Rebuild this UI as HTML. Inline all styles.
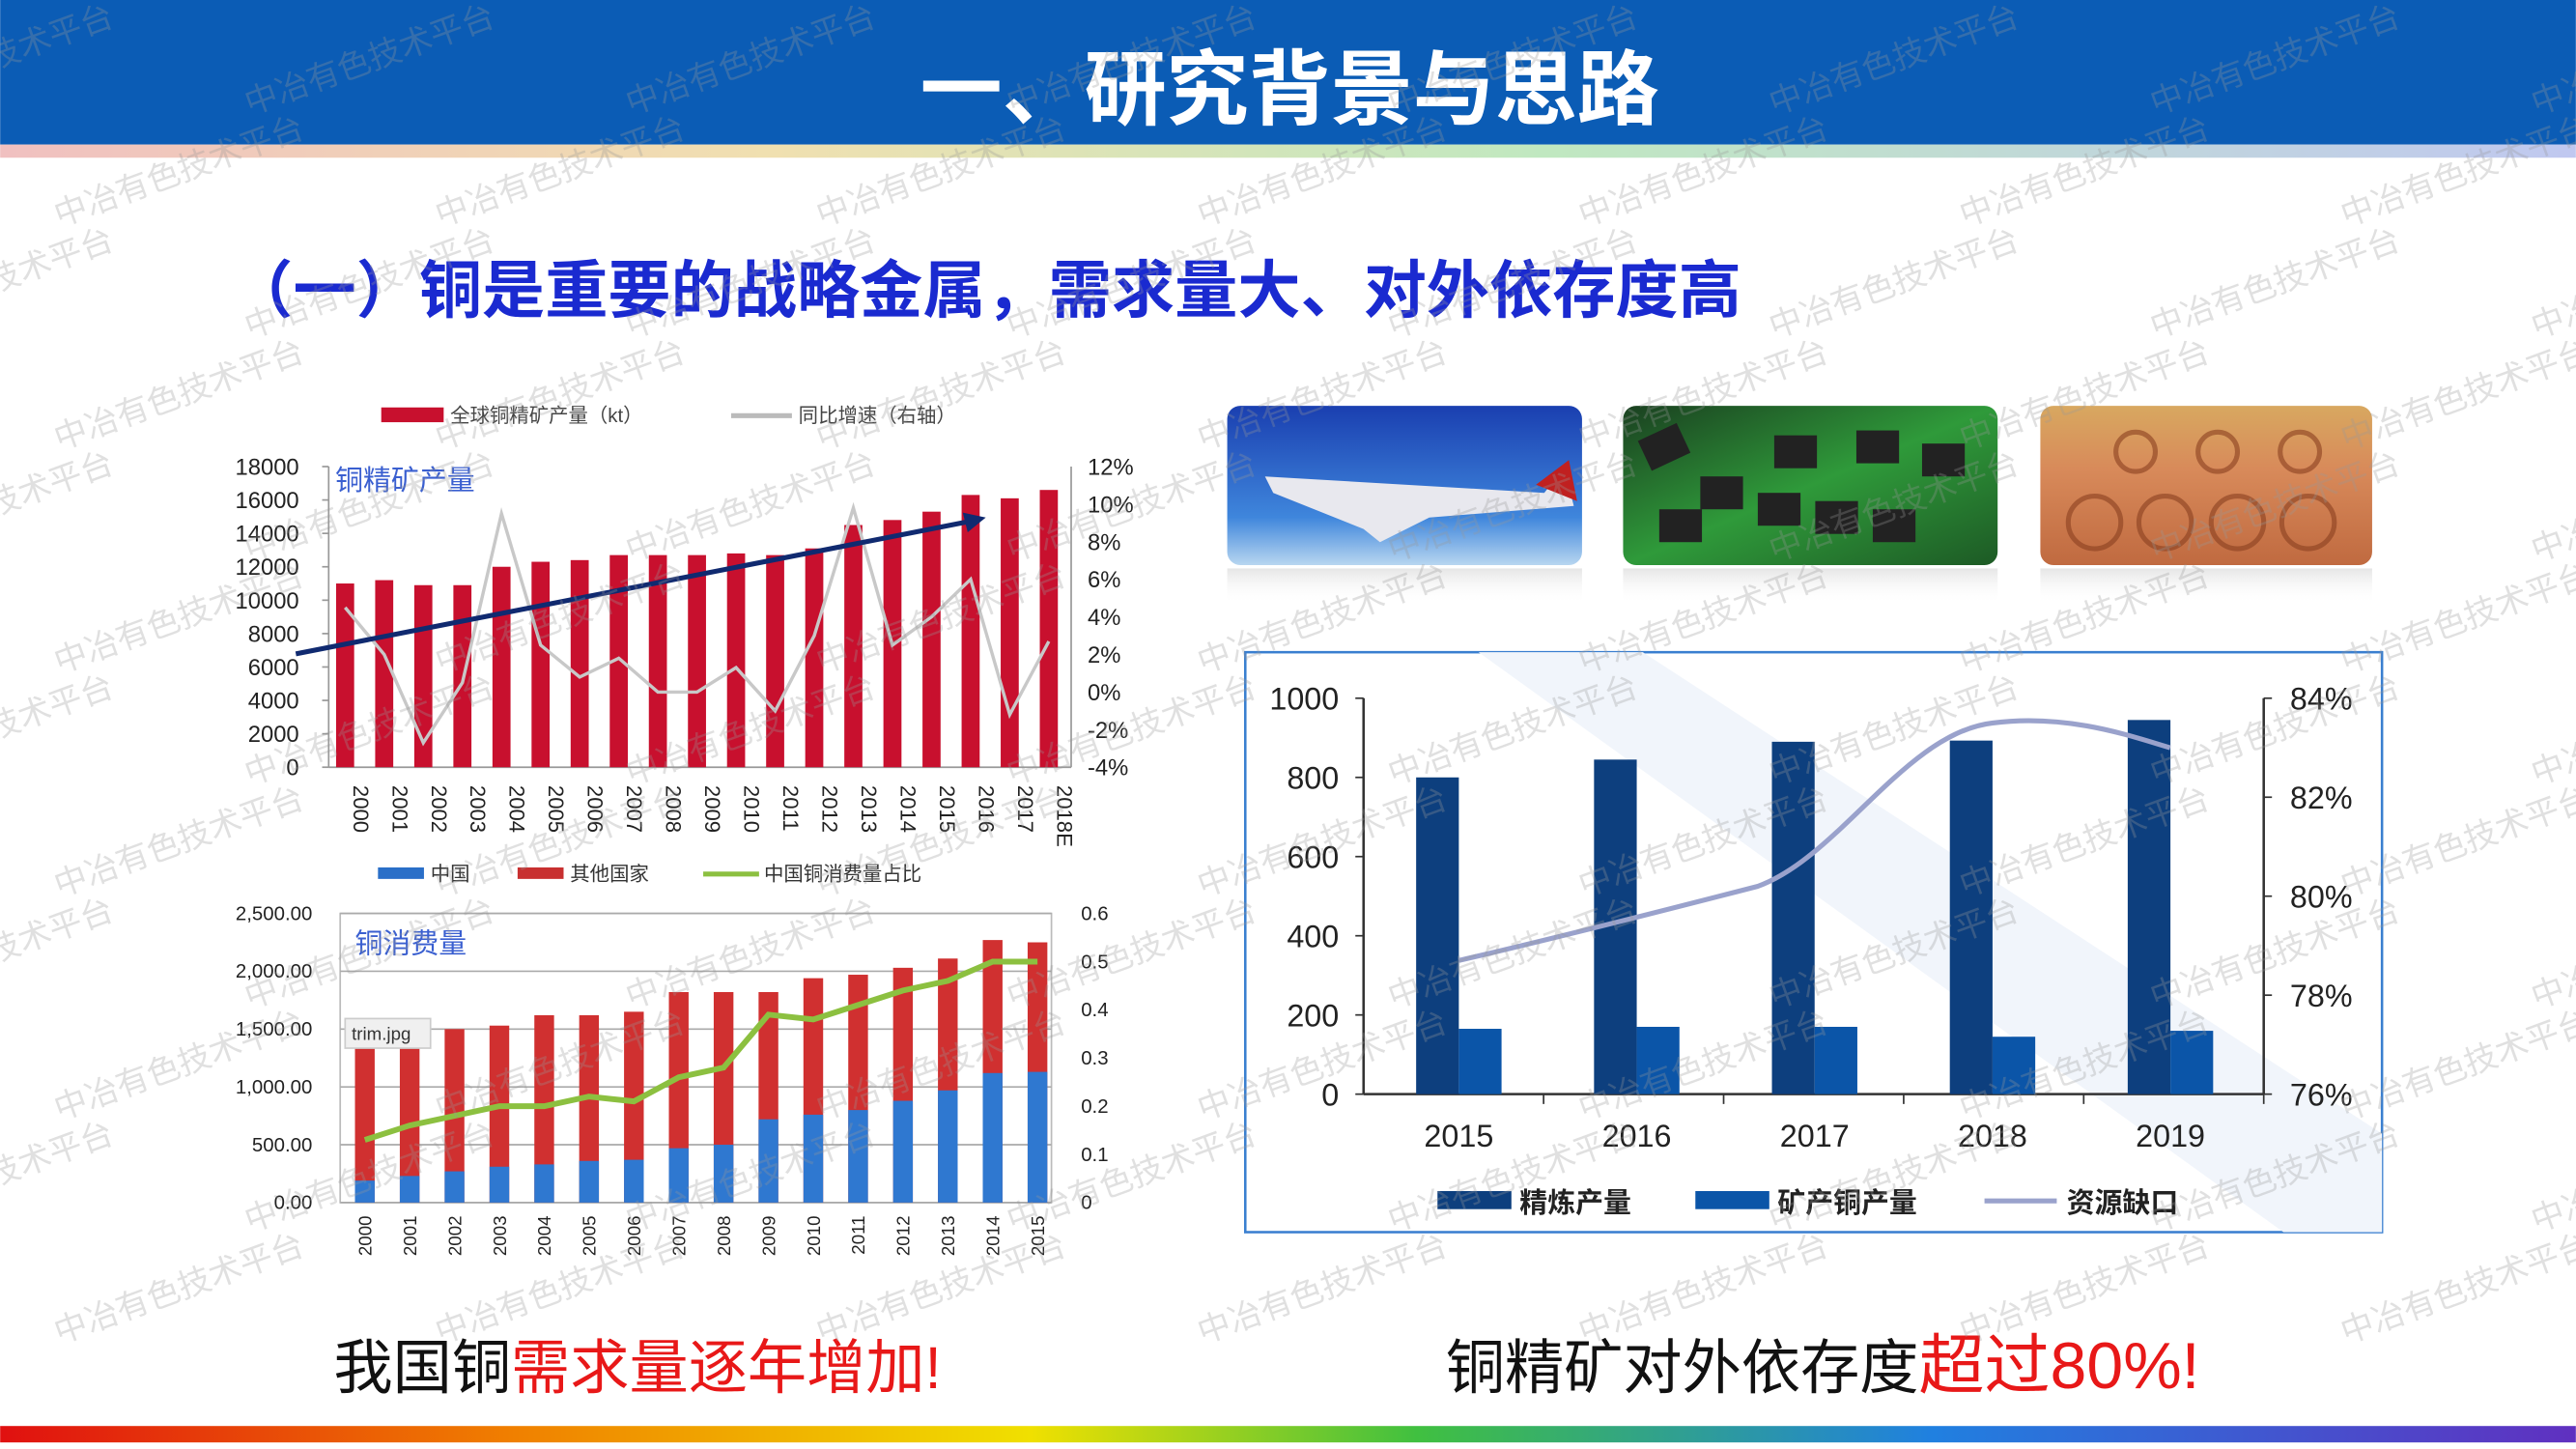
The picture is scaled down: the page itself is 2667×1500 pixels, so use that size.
<!DOCTYPE html>
<html><head><meta charset="utf-8">
<style>
html,body{margin:0;padding:0;background:#fff;}
svg{display:block;}
text{font-family:"Liberation Sans","Noto Sans CJK SC",sans-serif;}
</style></head>
<body>
<svg id="s" width="2667" height="1500" viewBox="0 0 1568 882" xmlns="http://www.w3.org/2000/svg">
<defs>
<linearGradient id="rb" x1="0" x2="1" y1="0" y2="0">
<stop offset="0" stop-color="#e01010"/><stop offset="0.2" stop-color="#f08000"/><stop offset="0.4" stop-color="#f0e000"/><stop offset="0.55" stop-color="#40c040"/><stop offset="0.75" stop-color="#2080e0"/><stop offset="1" stop-color="#6030c0"/>
</linearGradient>
<linearGradient id="rb2" x1="0" x2="1" y1="0" y2="0">
<stop offset="0" stop-color="#f0c0c0"/><stop offset="0.3" stop-color="#f0e0b0"/><stop offset="0.6" stop-color="#c0e8c0"/><stop offset="1" stop-color="#c0c8f0"/>
</linearGradient>
<linearGradient id="sky" x1="0" y1="0" x2="0" y2="1"><stop offset="0" stop-color="#1a3fb0"/><stop offset="0.7" stop-color="#3f86dc"/><stop offset="1" stop-color="#b8d6f0"/></linearGradient>
<linearGradient id="pcb" x1="0" y1="0" x2="1" y2="1"><stop offset="0" stop-color="#1a4020"/><stop offset="0.5" stop-color="#2f9a3a"/><stop offset="1" stop-color="#1d5a25"/></linearGradient>
<linearGradient id="cu" x1="0" y1="0" x2="0" y2="1"><stop offset="0" stop-color="#d8a860"/><stop offset="0.4" stop-color="#d88a5a"/><stop offset="1" stop-color="#c06a40"/></linearGradient>
<linearGradient id="refl" x1="0" y1="0" x2="0" y2="1"><stop offset="0" stop-color="#ccc" stop-opacity="0.5"/><stop offset="1" stop-color="#fff" stop-opacity="0"/></linearGradient>
</defs>
<rect width="1568" height="882" fill="#fff"/>
<rect width="1568" height="88" fill="#0b5cb5"/>
<rect y="88" width="1568" height="8" fill="url(#rb2)"/>
<text x="785" y="72" text-anchor="middle" font-size="50" font-weight="bold" fill="#fff">一、研究背景与思路</text>
<text x="140" y="190" font-size="38" font-weight="bold" fill="#1a2ad0" textLength="920" lengthAdjust="spacingAndGlyphs">（一）铜是重要的战略金属，需求量大、对外依存度高</text>

<rect x="747" y="247" width="216" height="97" rx="8" fill="url(#sky)"/>
<path d="M770 290 L940 300 L952 285 L958 308 L870 315 L840 330 L830 322 L775 300 Z" fill="#e8e8ee"/>
<path d="M935 295 L955 280 L960 305 Z" fill="#c02020"/>
<rect x="747" y="346" width="216" height="22" fill="url(#refl)"/>
<rect x="988" y="247" width="228" height="97" rx="8" fill="url(#pcb)"/>
<g fill="#222">
<rect x="1000" y="262" width="26" height="20" transform="rotate(-25 1013 272)"/><rect x="1035" y="290" width="26" height="20"/><rect x="1070" y="300" width="26" height="20"/><rect x="1105" y="305" width="26" height="20"/><rect x="1130" y="262" width="26" height="20"/><rect x="1170" y="270" width="26" height="20"/><rect x="1080" y="265" width="26" height="20"/><rect x="1140" y="310" width="26" height="20"/><rect x="1010" y="310" width="26" height="20"/>
</g>
<rect x="988" y="346" width="228" height="22" fill="url(#refl)"/>
<rect x="1242" y="247" width="202" height="97" rx="8" fill="url(#cu)"/>
<g fill="none" stroke="#8a4020" stroke-width="3" opacity="0.6">
<circle cx="1275" cy="318" r="16"/><circle cx="1318" cy="318" r="16"/><circle cx="1362" cy="318" r="16"/><circle cx="1405" cy="318" r="16"/><circle cx="1300" cy="275" r="12"/><circle cx="1350" cy="275" r="12"/><circle cx="1400" cy="275" r="12"/>
</g>
<rect x="1242" y="346" width="202" height="22" fill="url(#refl)"/>

<g id="c1"></g><g id="c2"></g><g id="c3"></g>

<text x="203" y="845" font-size="36" fill="#111">我国铜<tspan fill="#e81818">需求量逐年增加!</tspan></text>
<text x="880" y="845" font-size="36" fill="#111">铜精矿对外依存度<tspan fill="#e81818" font-size="40">超过80%!</tspan></text>
<rect y="868" width="1568" height="10" fill="url(#rb)"/>
<g id="wm"></g>
</svg>
<script>
var NS="http://www.w3.org/2000/svg";
function el(p,t,a,txt){var e=document.createElementNS(NS,t);for(var k in a)e.setAttribute(k,a[k]);if(txt!==undefined)e.textContent=txt;document.getElementById(p).appendChild(e);return e;}
var c="c1";
el(c,"rect",{x:232,y:248,width:38,height:9,fill:"#c8102e"});
el(c,"text",{x:274,y:257,"font-size":12,fill:"#444","font-family":"Liberation Serif,Noto Serif CJK SC,serif"},"全球铜精矿产量（kt）");
el(c,"line",{x1:445,y1:253,x2:482,y2:253,stroke:"#bbb","stroke-width":3});
el(c,"text",{x:486,y:257,"font-size":12,fill:"#444","font-family":"Liberation Serif,Noto Serif CJK SC,serif"},"同比增速（右轴）");
var x0=200,x1=652,yt=284,yb=467;
el(c,"line",{x1:x0,y1:yt,x2:x0,y2:yb,stroke:"#999"});
el(c,"line",{x1:x1,y1:yt,x2:x1,y2:yb,stroke:"#999"});
el(c,"line",{x1:x0,y1:yb,x2:x1,y2:yb,stroke:"#999"});
for(var i=0;i<=9;i++){var y=yb-i*(yb-yt)/9;el(c,"text",{x:182,y:y+5,"text-anchor":"end","font-size":14,fill:"#222"},i*2000);el(c,"line",{x1:x0-4,y1:y,x2:x0,y2:y,stroke:"#999"});}
for(var i=0;i<=8;i++){var y=yb-i*(yb-yt)/8;el(c,"text",{x:662,y:y+5,"font-size":14,fill:"#222"},(i*2-4)+"%");}
el(c,"text",{x:204,y:298,"font-size":17,fill:"#3a5fd0"},"铜精矿产量");
var v=[11000,11200,10900,10900,12000,12300,12400,12700,12700,12700,12800,12700,13100,14500,14800,15300,16300,16100,16600];
var g=[4.5,2,-2.7,0.5,9.5,2.5,0.8,1.8,0,0,1.3,-1,3,9.8,2.5,4,6,-1.2,2.7];
var pts=[];
for(var i=0;i<19;i++){var cx=210+i*23.8;var h=v[i]/18000*(yb-yt);el(c,"rect",{x:cx-5.5,y:yb-h,width:11,height:h,fill:"#c8102e"});
pts.push(cx+","+(yb-(g[i]+4)/16*(yb-yt)));
var lab=i<10?"200"+i:"20"+i;if(i==18)lab="2018E";
el(c,"text",{x:0,y:0,"font-size":13,fill:"#222",transform:"translate("+(cx+5)+",478) rotate(90)"},lab);}
el(c,"polyline",{points:pts.join(" "),fill:"none",stroke:"#c8c8c8","stroke-width":2});
el(c,"line",{x1:180,y1:398,x2:592,y2:317,stroke:"#102a70","stroke-width":3});
el(c,"path",{d:"M600 315 L586 312 L589 324 Z",fill:"#102a70"});
c="c2";
el(c,"rect",{x:230,y:528,width:28,height:7,fill:"#2a6fc8"});el(c,"text",{x:262,y:536,"font-size":12,fill:"#333"},"中国");
el(c,"rect",{x:315,y:528,width:28,height:7,fill:"#c83030"});el(c,"text",{x:347,y:536,"font-size":12,fill:"#333"},"其他国家");
el(c,"line",{x1:428,y1:532,x2:462,y2:532,stroke:"#8cc040","stroke-width":3});el(c,"text",{x:465,y:536,"font-size":12,fill:"#333"},"中国铜消费量占比");
x0=207;x1=640;yt=556;yb=732;
el(c,"rect",{x:x0,y:yt,width:x1-x0,height:yb-yt,fill:"none",stroke:"#bbb"});
for(var i=0;i<=5;i++){var y=yb-i*(yb-yt)/5;el(c,"line",{x1:x0,y1:y,x2:x1,y2:y,stroke:"#aaa"});el(c,"text",{x:190,y:y+4,"text-anchor":"end","font-size":12,fill:"#222"},(i*500).toLocaleString("en-US")+".00");}
for(var i=0;i<=6;i++){var y=yb-i*(yb-yt)/6;el(c,"text",{x:658,y:y+4,"font-size":12,fill:"#222"},i==0?"0":(i/10).toFixed(1));}
el(c,"text",{x:216,y:580,"font-size":17,fill:"#3a5fd0"},"铜消费量");
var T=[1380,1380,1500,1530,1620,1620,1650,1820,1820,1820,1940,1970,2030,2110,2270,2250];
var C=[190,230,270,310,330,360,370,470,500,720,760,800,880,970,1120,1130];
var S=[0.13,0.16,0.18,0.2,0.2,0.22,0.21,0.26,0.28,0.39,0.38,0.41,0.44,0.46,0.5,0.5];
pts=[];
for(var i=0;i<16;i++){var cx=222+i*27.3;var k=(yb-yt)/2500;
el(c,"rect",{x:cx-6,y:yb-T[i]*k,width:12,height:T[i]*k,fill:"#d03030"});
el(c,"rect",{x:cx-6,y:yb-C[i]*k,width:12,height:C[i]*k,fill:"#2f78d0"});
pts.push(cx+","+(yb-S[i]/0.6*(yb-yt)));
el(c,"text",{x:0,y:0,"font-size":11,fill:"#222",transform:"translate("+(cx+4)+",740) rotate(-90)","text-anchor":"end"},2000+i);}
el(c,"polyline",{points:pts.join(" "),fill:"none",stroke:"#8cc040","stroke-width":3.5});
el(c,"rect",{x:210,y:620,width:52,height:18,fill:"#f0f0f0",stroke:"#ccc"});
el(c,"text",{x:214,y:633,"font-size":11,fill:"#333"},"trim.jpg");
c="c3";
el(c,"rect",{x:758,y:397,width:692,height:353,fill:"#fff",stroke:"#3a7fd0","stroke-width":1.5});
el(c,"path",{d:"M900 397 L1000 397 L1450 690 L1450 750 L1390 750 Z",fill:"#f1f5fb"});
x0=830;x1=1378;yt=425;yb=666;
el(c,"line",{x1:x0,y1:yt,x2:x0,y2:yb,stroke:"#333","stroke-width":1.5});
el(c,"line",{x1:x1,y1:yt,x2:x1,y2:yb,stroke:"#333","stroke-width":1.5});
el(c,"line",{x1:x0,y1:yb,x2:x1,y2:yb,stroke:"#333","stroke-width":1.5});
for(var i=0;i<=5;i++){var y=yb-i*(yb-yt)/5;el(c,"line",{x1:x0-5,y1:y,x2:x0,y2:y,stroke:"#333"});el(c,"text",{x:815,y:y+7,"text-anchor":"end","font-size":19,fill:"#222"},i*200);}
for(var i=0;i<=4;i++){var y=yb-i*(yb-yt)/4;el(c,"line",{x1:x1,y1:y,x2:x1+5,y2:y,stroke:"#333"});el(c,"text",{x:1394,y:y+7,"font-size":19,fill:"#222"},(76+i*2)+"%");}
var R=[800,845,890,893,945],M=[165,170,170,145,160],L=[78.7,79.4,80.5,83.5,83.0];
var k=(yb-yt)/1000;
for(var i=0;i<5;i++){var cx=888+i*108.3;
el(c,"rect",{x:cx-26,y:yb-R[i]*k,width:26,height:R[i]*k,fill:"#0d3f7e"});
el(c,"rect",{x:cx,y:yb-M[i]*k,width:26,height:M[i]*k,fill:"#0b55a8"});
el(c,"line",{x1:x0+(i+1)*109.6,y1:yb,x2:x0+(i+1)*109.6,y2:yb+6,stroke:"#333"});
el(c,"text",{x:cx,y:698,"text-anchor":"middle","font-size":19,fill:"#222"},2015+i);}
function yl(p){return yb-(p-76)/8*(yb-yt);}
el(c,"path",{d:"M888 "+yl(78.7)+" C940 "+yl(79.1)+" 1000 "+yl(79.6)+" 1070 "+yl(80.2)+" C1120 "+yl(80.8)+" 1160 "+yl(83.3)+" 1213 "+yl(83.5)+" C1260 "+yl(83.7)+" 1300 "+yl(83.2)+" 1321 "+yl(83.0),fill:"none",stroke:"#9aa2cc","stroke-width":3});
el(c,"rect",{x:875,y:725,width:45,height:11,fill:"#0d3f7e"});el(c,"text",{x:925,y:738,"font-size":17,fill:"#222","font-weight":"bold"},"精炼产量");
el(c,"rect",{x:1032,y:725,width:45,height:11,fill:"#0b55a8"});el(c,"text",{x:1082,y:738,"font-size":17,fill:"#222","font-weight":"bold"},"矿产铜产量");
el(c,"line",{x1:1208,y1:731,x2:1252,y2:731,stroke:"#9aa2cc","stroke-width":3});el(c,"text",{x:1258,y:738,"font-size":17,fill:"#222","font-weight":"bold"},"资源缺口");
for(var r=0;r<12;r++)for(var q=0;q<8;q++){var x=-80+q*232+(r%2)*116;var y=70+r*68;
el("wm","text",{x:0,y:0,"font-size":20,fill:"#999","fill-opacity":0.3,transform:"translate("+x+","+y+") rotate(-20)"},"中冶有色技术平台");}
</script>
</body></html>
